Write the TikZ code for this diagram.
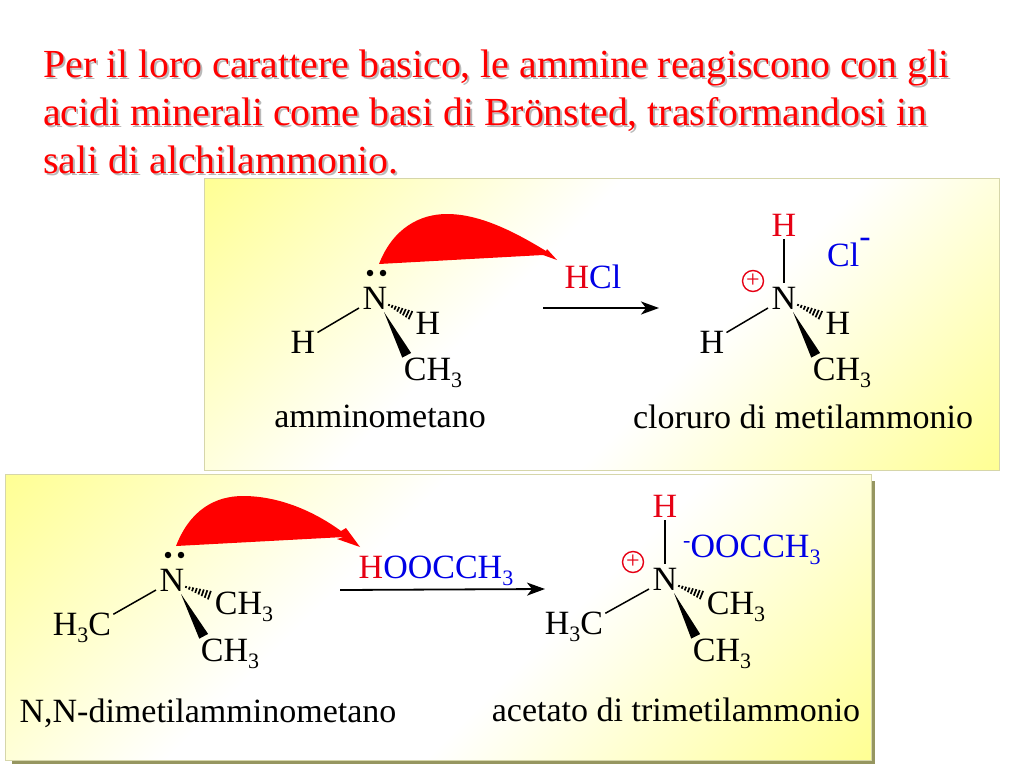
\documentclass[tikz,border=0pt]{standalone}
\usepackage{fontspec}
\usepackage{xcolor}
\setmainfont{Liberation Serif}
\usetikzlibrary{calc}
\usetikzlibrary{arrows.meta}

\definecolor{molred}{RGB}{230,0,20}
\definecolor{molblue}{RGB}{0,0,230}
\definecolor{paneledge}{RGB}{214,214,170}
\definecolor{panelshadow}{RGB}{150,150,96}
\pgfdeclarehorizontalshading{panelfade}{100bp}{color(0bp)=(yellow!42!white); color(14.6bp)=(yellow!42!white); color(42bp)=(white); color(58bp)=(white); color(85.4bp)=(yellow!42!white); color(100bp)=(yellow!42!white)}

\newcommand{\subn}[1]{\raisebox{-7pt}{\fontsize{22}{22}\selectfont #1}}
\newcommand{\titletext}{Per il loro carattere basico, le ammine reagiscono con gli\\acidi minerali come basi di Brönsted, trasformandosi in\\sali di alchilammonio.}
% bonds of one amine: centre, left group, hashed group, wedge group
\newcommand{\aminebonds}[4]{
  \draw[bond] ([shift={(-16,-1)}]#1.base) -- ([shift={(2,2)}]#2.north east);
  \coordinate (ha) at ([shift={(14,-4)}]#1.base);
  \coordinate (hb) at ([shift={(-2,5)}]#3.north west);
  \foreach \t in {0,0.125,...,1.01} {
    \pgfmathsetmacro{\w}{1+4*\t}
    \draw[line width=1.7pt] ($(ha)!\t!(hb)!\w pt!90:(hb)$) -- ($(ha)!\t!(hb)!\w pt!-90:(hb)$);
  }
  \coordinate (wa) at ([shift={(9,3)}]#1.base);
  \coordinate (wb) at ([shift={(3,-2)}]#4.north west);
  \fill (wa) -- ($(wb)!5pt!90:(wa)$) -- ($(wb)!5pt!-90:(wa)$) -- cycle;
}

\tikzset{
  chem/.style={anchor=base,inner sep=0pt,font=\fontsize{34}{34}\selectfont},
  title/.style={anchor=base west,inner sep=0pt,align=left,font=\fontsize{39.8}{48}\selectfont},
  panel/.style={draw=paneledge,line width=.8pt,shading=panelfade,shading angle=-45},
  bond/.style={line width=1.5pt},
  rxn/.style={line width=1.8pt,-{Stealth[length=18pt,width=13pt,inset=5pt]}},
  lonepair/.style={circle,fill=black,inner sep=0pt,minimum size=6.5pt},
  charge/.style={circle,draw=molred,line width=1.4pt,inner sep=0pt,minimum size=21pt,text=molred,font=\fontsize{24}{24}\selectfont},
  curly/.style={fill=red}
}

\begin{document}
\begin{tikzpicture}[x=1pt,y=-1pt]
  \useasboundingbox (0,0) rectangle (1024,768);

  % panels
  \fill[panelshadow] (205,179) rectangle (1000,471);
  \path[panel] (204,178) rectangle (999,470);
  \fill[panelshadow] (12,481) rectangle (875,764);
  \path[panel] (5,474) rectangle (871,760);

  % title
  \node[title,text=gray!55] (shade) at (45,175) {\titletext};
  \node[title,text=red] (head) at (43,173) {\titletext};

  % amminometano
  \node[chem] (N1) at (375,309) {N};
  \node[chem] (H1l) at (303,353) {H};
  \node[chem] (H1r) at (428,334) {H};
  \node[chem] (C1) at (433,380) {CH\subn{3}};
  \node[chem] (name1) at (380,427) {amminometano};
  \node[lonepair] (p1a) at (370,273) {};
  \node[lonepair] (p1b) at (383,273) {};
  \aminebonds{N1}{H1l}{H1r}{C1}

  \coordinate (c1a) at (379,264);
  \coordinate (c1b) at (557,260);
  \fill[curly] (c1a) .. controls (393,228) and (420,214) .. (447,214)
    .. controls (480,214) and (515,232) .. (546,251) -- (547,249) -- (c1b) -- (543,255) -- cycle;

  \node[chem] (acid1) at (593,288) {\textcolor{molred}{H}\textcolor{molblue}{Cl}};
  \coordinate (r1a) at (543,308);
  \coordinate (r1b) at (659,308);
  \draw[rxn] (r1a) -- (r1b);

  % cloruro di metilammonio
  \node[chem] (N2) at (784,309) {N};
  \node[chem,text=molred] (H2t) at (784,236) {H};
  \node[chem] (H2l) at (712,353) {H};
  \node[chem] (H2r) at (838,334) {H};
  \node[chem] (C2) at (842,380) {CH\subn{3}};
  \node[chem,anchor=base west,text=molblue] (ion2) at (827,266) {Cl\raisebox{19pt}{-}};
  \node[charge] (plus2) at (753,281) {+};
  \node[chem] (name2) at (803,428) {cloruro di metilammonio};
  \draw[bond,shorten <=3pt,shorten >=4pt] (H2t) -- (N2);
  \aminebonds{N2}{H2l}{H2r}{C2}

  % N,N-dimetilamminometano
  \node[chem] (N3) at (172,591) {N};
  \node[chem] (C3l) at (82,635) {H\subn{3}C};
  \node[chem] (C3r) at (244,614) {CH\subn{3}};
  \node[chem] (C3b) at (230,661) {CH\subn{3}};
  \node[chem] (name3) at (208,722) {N,N-dimetilamminometano};
  \node[lonepair] (p3a) at (168,555) {};
  \node[lonepair] (p3b) at (181,555) {};
  \aminebonds{N3}{C3l}{C3r}{C3b}

  \coordinate (c3a) at (176,546);
  \coordinate (c3b) at (360,547);
  \fill[curly] (c3a) .. controls (190,510) and (215,496) .. (243,496)
    .. controls (280,496) and (315,512) .. (341,531) -- (346,528) -- (c3b) -- (337,539) -- (344,537) -- cycle;

  \node[chem] (acid3) at (436,578) {\textcolor{molred}{H}\textcolor{molblue}{OOCCH\subn{3}}};
  \coordinate (r3a) at (340,590);
  \coordinate (r3b) at (545,589);
  \draw[rxn] (r3a) -- (r3b);

  % acetato di trimetilammonio
  \node[chem] (N4) at (665,590) {N};
  \node[chem,text=molred] (H4t) at (665,517) {H};
  \node[chem] (C4l) at (574,634) {H\subn{3}C};
  \node[chem] (C4r) at (736,614) {CH\subn{3}};
  \node[chem] (C4b) at (722,661) {CH\subn{3}};
  \node[chem,anchor=base west,text=molblue] (ion4) at (683,557) {\raisebox{10pt}{\fontsize{22}{22}\selectfont -}OOCCH\subn{3}};
  \node[charge] (plus4) at (633,562) {+};
  \node[chem] (name4) at (676,721) {acetato di trimetilammonio};
  \draw[bond,shorten <=3pt,shorten >=4pt] (H4t) -- (N4);
  \aminebonds{N4}{C4l}{C4r}{C4b}
\end{tikzpicture}
\end{document}
